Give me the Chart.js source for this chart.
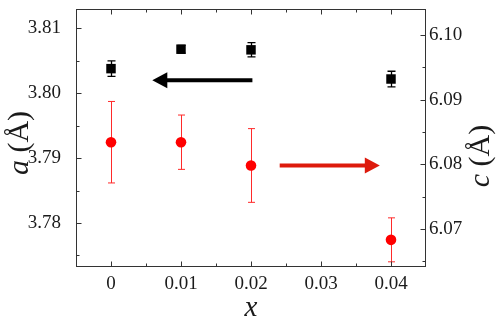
<!DOCTYPE html>
<html>
<head>
<meta charset="utf-8">
<script src="https://cdn.jsdelivr.net/npm/chart.js@4/dist/chart.umd.min.js"></script>
<style>
html,body{margin:0;padding:0;background:#fff;}
canvas{display:block;}
</style>
</head>
<body>
<canvas id="c" width="498" height="320"></canvas>
<script>
// ---- data ----
const xValues = [0, 0.01, 0.02, 0.04];
const aValues = [3.8038, 3.8068, 3.8067, 3.8022];
const aErrors = [0.0012, 0.0006, 0.0011, 0.0012];
const cValues = [6.0834, 6.0834, 6.0798, 6.0683];
const cErrors = [0.0063, 0.0042, 0.0057, 0.0034];

const xTicks = [0, 0.01, 0.02, 0.03, 0.04];
const xTickLabels = ["0", "0.01", "0.02", "0.03", "0.04"];
const xMinorTicks = [0.005, 0.015, 0.025, 0.035];
const aTicks = [3.78, 3.79, 3.80, 3.81];
const aTickLabels = ["3.78", "3.79", "3.80", "3.81"];
const aMinorTicks = [3.775, 3.785, 3.795, 3.805];
const cTicks = [6.07, 6.08, 6.09, 6.10];
const cTickLabels = ["6.07", "6.08", "6.09", "6.10"];
const cMinorTicks = [6.065, 6.075, 6.085, 6.095];

// arrows (data coordinates): x from -> to, y level
const arrowAX = [0.0202, 0.0059];
const arrowAY = 3.802;
const arrowCX = [0.0241, 0.0384];
const arrowCY = 6.0798;

const SERIF = '"Liberation Serif", "Times New Roman", serif';
const FRAME = '#333333';
const TEXT = '#1a1a1a';

const aPoints = xValues.map((x, i) => ({x: x, y: aValues[i]}));
const cPoints = xValues.map((x, i) => ({x: x, y: cValues[i]}));

const noPad = s => { s.paddingTop = 0; s.paddingBottom = 0; s.paddingLeft = 0; s.paddingRight = 0; };

const decorPlugin = {
  id: 'decor',
  beforeDatasetsDraw(chart) {
    const ctx = chart.ctx;
    const sx = chart.scales.x, sa = chart.scales.y, sc = chart.scales.y2;
    ctx.save();
    ctx.strokeStyle = '#000';
    ctx.lineWidth = 1.3;
    xValues.forEach((x, i) => {
      const px = Math.round(sx.getPixelForValue(x)) + 0.5;
      const t = sa.getPixelForValue(aValues[i] + aErrors[i]);
      const b = sa.getPixelForValue(aValues[i] - aErrors[i]);
      ctx.beginPath();
      ctx.moveTo(px, t); ctx.lineTo(px, b);
      ctx.moveTo(px - 4, t); ctx.lineTo(px + 4, t);
      ctx.moveTo(px - 4, b); ctx.lineTo(px + 4, b);
      ctx.stroke();
    });
    ctx.strokeStyle = '#ff2a2a';
    ctx.lineWidth = 1;
    xValues.forEach((x, i) => {
      const px = Math.round(sx.getPixelForValue(x)) + 0.5;
      const t = sc.getPixelForValue(cValues[i] + cErrors[i]);
      const b = sc.getPixelForValue(cValues[i] - cErrors[i]);
      ctx.beginPath();
      ctx.moveTo(px, t); ctx.lineTo(px, b);
      ctx.moveTo(px - 3.5, t); ctx.lineTo(px + 3.5, t);
      ctx.moveTo(px - 3.5, b); ctx.lineTo(px + 3.5, b);
      ctx.stroke();
    });
    ctx.restore();
  },
  afterDatasetsDraw(chart) {
    const ctx = chart.ctx;
    const area = chart.chartArea;
    const sx = chart.scales.x, sa = chart.scales.y, sc = chart.scales.y2;
    ctx.save();
    ctx.strokeStyle = FRAME;
    ctx.lineWidth = 1;
    const L = Math.round(area.left) + 0.5, R = Math.round(area.right) - 0.5;
    const T = Math.round(area.top) + 0.5, B = Math.round(area.bottom) - 0.5;
    ctx.strokeRect(L, T, R - L, B - T);
    ctx.beginPath();
    const xt = (vals, len) => vals.forEach(v => {
      const p = Math.round(sx.getPixelForValue(v)) + 0.5;
      ctx.moveTo(p, B); ctx.lineTo(p, B - len);
      ctx.moveTo(p, T); ctx.lineTo(p, T + len);
    });
    xt(xTicks, 5); xt(xMinorTicks, 3);
    const yl = (vals, len) => vals.forEach(v => {
      const p = Math.round(sa.getPixelForValue(v)) + 0.5;
      ctx.moveTo(L, p); ctx.lineTo(L + len, p);
    });
    yl(aTicks, 5); yl(aMinorTicks, 3);
    const yr = (vals, len) => vals.forEach(v => {
      const p = Math.round(sc.getPixelForValue(v)) + 0.5;
      ctx.moveTo(R, p); ctx.lineTo(R - len, p);
    });
    yr(cTicks, 5); yr(cMinorTicks, 3);
    ctx.stroke();

    const arrow = (x0, x1, y, color) => {
      const dir = Math.sign(x1 - x0);
      const head = 15, half = 8;
      ctx.fillStyle = color;
      ctx.strokeStyle = color;
      ctx.lineWidth = 4;
      ctx.beginPath();
      ctx.moveTo(x0, y); ctx.lineTo(x1 - dir * (head - 2), y);
      ctx.stroke();
      ctx.beginPath();
      ctx.moveTo(x1, y);
      ctx.lineTo(x1 - dir * head, y - half);
      ctx.lineTo(x1 - dir * head, y + half);
      ctx.closePath();
      ctx.fill();
    };
    arrow(sx.getPixelForValue(arrowAX[0]), sx.getPixelForValue(arrowAX[1]), sa.getPixelForValue(arrowAY), '#000');
    arrow(sx.getPixelForValue(arrowCX[0]), sx.getPixelForValue(arrowCX[1]), sc.getPixelForValue(arrowCY), '#dd1a0c');

    ctx.fillStyle = TEXT;
    ctx.textBaseline = 'middle';
    const rotTitle = (cx, cy, ital, rest, size) => {
      ctx.save();
      ctx.translate(cx, cy);
      ctx.rotate(-Math.PI / 2);
      ctx.font = 'italic ' + size + 'px ' + SERIF;
      const w1 = ctx.measureText(ital).width;
      ctx.font = size + 'px ' + SERIF;
      const w2 = ctx.measureText(rest).width;
      const start = -(w1 + w2) / 2;
      ctx.textAlign = 'left';
      ctx.font = 'italic ' + size + 'px ' + SERIF;
      ctx.fillText(ital, start, 0);
      ctx.font = size + 'px ' + SERIF;
      ctx.fillText(rest, start + w1, 0);
      ctx.restore();
    };
    rotTitle(20, 143, 'a', ' (Å)', 30);
    rotTitle(481, 156, 'c', ' (Å)', 30);
    ctx.font = 'italic 29px ' + SERIF;
    ctx.textAlign = 'center';
    ctx.fillText('x', (area.left + area.right) / 2, 308);
    ctx.restore();
  }
};

const tickFont = {family: SERIF, size: 19};

new Chart(document.getElementById('c'), {
  type: 'scatter',
  data: {
    datasets: [
      {
        label: 'a',
        data: aPoints,
        yAxisID: 'y',
        pointStyle: 'rect',
        pointRadius: 6.7,
        backgroundColor: '#000',
        borderColor: '#000',
        borderWidth: 0
      },
      {
        label: 'c',
        data: cPoints,
        yAxisID: 'y2',
        pointStyle: 'circle',
        pointRadius: 5.3,
        backgroundColor: '#ff0000',
        borderColor: '#ff0000',
        borderWidth: 0
      }
    ]
  },
  options: {
    responsive: false,
    animation: false,
    devicePixelRatio: 1,
    layout: {padding: {top: 9, left: 0, right: 0, bottom: 0}},
    plugins: {legend: {display: false}, tooltip: {enabled: false}},
    scales: {
      x: {
        type: 'linear',
        position: 'bottom',
        min: -0.005,
        max: 0.045,
        grid: {display: false, drawTicks: false},
        border: {display: false},
        afterBuildTicks: s => { s.ticks = xTicks.map(v => ({value: v})); },
        afterFit: s => { s.height = 53; noPad(s); },
        ticks: {
          font: tickFont,
          color: TEXT,
          padding: 6,
          maxRotation: 0,
          autoSkip: false,
          callback: (v, i) => xTickLabels[i]
        }
      },
      y: {
        type: 'linear',
        position: 'left',
        min: 3.7732,
        max: 3.813,
        grid: {display: false, drawTicks: false},
        border: {display: false},
        afterBuildTicks: s => { s.ticks = aTicks.map(v => ({value: v})); },
        afterFit: s => { s.width = 76; noPad(s); },
        ticks: {
          font: tickFont,
          color: TEXT,
          padding: 15,
          autoSkip: false,
          callback: (v, i) => aTickLabels[i]
        }
      },
      y2: {
        type: 'linear',
        position: 'right',
        min: 6.0641,
        max: 6.1040,
        grid: {display: false, drawTicks: false},
        border: {display: false},
        afterBuildTicks: s => { s.ticks = cTicks.map(v => ({value: v})); },
        afterFit: s => { s.width = 72; noPad(s); },
        ticks: {
          font: tickFont,
          color: TEXT,
          padding: 3,
          autoSkip: false,
          callback: (v, i) => cTickLabels[i]
        }
      }
    }
  },
  plugins: [decorPlugin]
});
</script>
</body>
</html>
